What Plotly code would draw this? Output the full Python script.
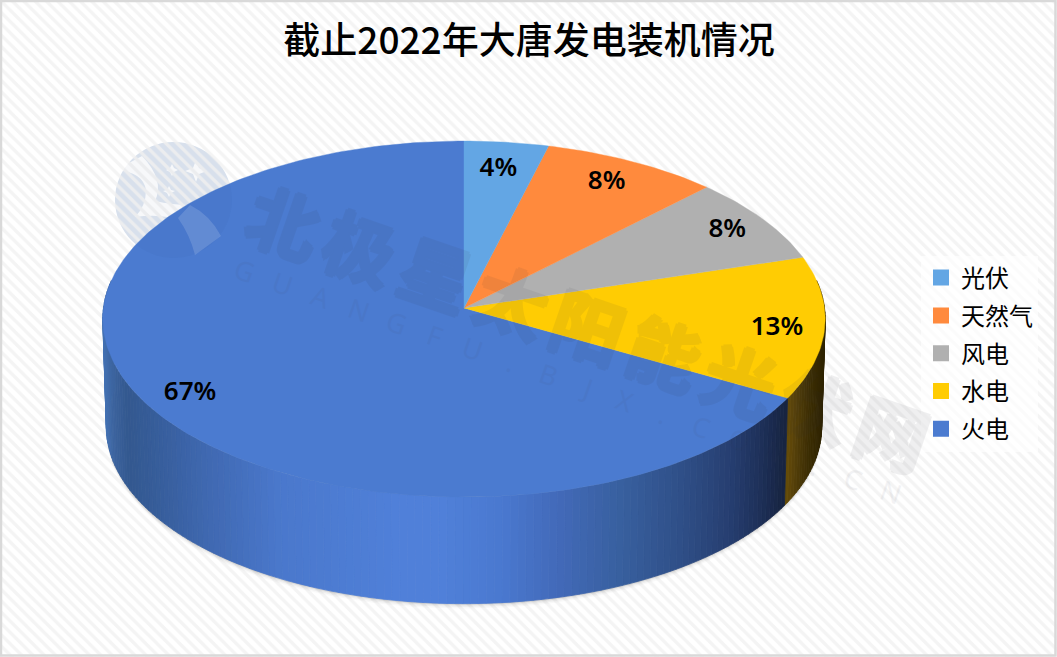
import numpy as np
import plotly.graph_objects as go

# ---- data ----
categories = ["光伏", "天然气", "风电", "水电", "火电"]
values = [4.0, 8.4, 7.9, 12.9, 66.8]
colors = ["#63a6e4", "#ff8a3d", "#b0b0b0", "#ffcc03", "#4b7bd0"]
title_text = "截止2022年大唐发电装机情况"
wm_cn = "北极星太阳能光伏网"
wm_en = "GUANGFU.BJX.COM.CN"

# ---- geometry (pixel space of the figure) ----
W, H = 1057, 657
CX, CY_TOP, CY_BOT = 464, 308, 416
R_TOP, R_BOT = 360.5, 357
RY_TOP, RY_BOT = 177.3, 176
K = 0.062
label_fx = [0.80, 0.84, 0.877, 0.867, 0.854]
label_fy = [0.83, 0.85, 0.87, 1.05, 0.93]
blue_stops = [(104, "#4472b4"), (112, "#3c649f"), (128, "#33588f"), (160, "#375e9c"), (210, "#4069b2"),
              (280, "#4a78cc"), (400, "#5080d9"), (440, "#5080d9"), (500, "#4a79d0"), (560, "#4269b8"),
              (620, "#38609f"), (680, "#2f4f88"), (730, "#263e70"), (760, "#1e3059"), (786, "#16233f")]
yellow_stops = [(783, "#6e5206"), (795, "#55400a"), (808, "#3d2e04"), (826, "#2a2000")]


def project(theta, cy, r, ry, fx=1.0, fy=1.0):
    u, v = np.sin(theta) * fx, -np.cos(theta) * fy
    d = 1 - K * v
    return CX + r * u / d, cy + ry * v / d


def hex_rgb(c):
    return np.array([int(c[i:i + 2], 16) for i in (1, 3, 5)], float)


def grad(x, stops):
    xs = [s[0] for s in stops]
    cs = np.array([hex_rgb(s[1]) for s in stops])
    rgb = [np.interp(x, xs, cs[:, i]) for i in range(3)]
    return "rgb(%d,%d,%d)" % tuple(int(round(a)) for a in rgb)


edges = np.cumsum([0] + values) / sum(values) * 2 * np.pi
fig = go.Figure()

# striped background
fig.add_trace(go.Scatter(x=[0, W, W, 0, 0], y=[0, 0, H, H, 0], mode="lines", fill="toself",
                         line=dict(width=0), showlegend=False, hoverinfo="skip",
                         fillcolor="rgba(0,0,0,0)",
                         fillpattern=dict(shape="\\", size=8, solidity=0.42, fgcolor="#f4f4f4",
                                          bgcolor="rgba(0,0,0,0)", fillmode="replace")))

# soft shadow
t_all = np.linspace(np.pi * 0.45, np.pi * 1.55, 120)
for off, alpha in [(5, 0.025), (3.5, 0.04), (2, 0.06), (1, 0.09)]:
    bx, by = project(t_all, CY_BOT + off, R_BOT, RY_BOT)
    fig.add_trace(go.Scatter(x=bx, y=by, mode="lines", fill="toself", line=dict(width=0),
                             fillcolor=f"rgba(0,0,0,{alpha})", showlegend=False, hoverinfo="skip"))

# side wall: thin strips, shaded along x
for idx, stops in [(3, yellow_stops), (4, blue_stops)]:
    a0, a1 = edges[idx], edges[idx + 1]
    a0 = max(a0, np.pi * 0.45)
    a1 = min(a1, np.pi * 1.55)
    n = int((a1 - a0) / (np.pi / 150)) + 2
    ts = np.linspace(a0, a1, n + 1)
    for t0, t1 in zip(ts[:-1], ts[1:]):
        tx0, ty0 = project(t0, CY_TOP, R_TOP, RY_TOP)
        tx1, ty1 = project(t1, CY_TOP, R_TOP, RY_TOP)
        bx0, by0 = project(t0, CY_BOT, R_BOT, RY_BOT)
        bx1, by1 = project(t1, CY_BOT, R_BOT, RY_BOT)
        col = grad((tx0 + tx1 + bx0 + bx1) / 4, stops)
        fig.add_trace(go.Scatter(x=[tx0, tx1, bx1, bx0, tx0], y=[ty0, ty1, by1, by0, ty0],
                                 mode="lines", fill="toself", fillcolor=col,
                                 line=dict(width=0.8, color=col), showlegend=False, hoverinfo="skip"))

# top face
for i in [4, 3, 2, 1, 0]:
    ts = np.linspace(edges[i], edges[i + 1], max(int((edges[i + 1] - edges[i]) * 60), 8))
    px, py = project(ts, CY_TOP, R_TOP, RY_TOP)
    fig.add_trace(go.Scatter(x=np.r_[CX, px, CX], y=np.r_[CY_TOP, py, CY_TOP], mode="lines", fill="toself",
                             fillcolor=colors[i], line=dict(width=0.4, color=colors[i]),
                             showlegend=False, hoverinfo="skip"))

# data labels
mids = (edges[:-1] + edges[1:]) / 2
lx, ly = [], []
for m, fx, fy in zip(mids, label_fx, label_fy):
    a, b = project(m, CY_TOP, R_TOP, RY_TOP, fx, fy)
    lx.append(a)
    ly.append(b)
fig.add_trace(go.Scatter(x=lx, y=ly, mode="text", text=[f"{round(v)}%" for v in values],
                         textposition="middle center", showlegend=False, hoverinfo="skip",
                         textfont=dict(family="Noto Sans, Noto Sans CJK SC", size=26, color="#000000", weight=600)))

# legend entries
for i, name in enumerate(categories):
    fig.add_trace(go.Scatter(x=[-100], y=[-100], mode="markers", name=name, legendgroup=name,
                             marker=dict(symbol="square", size=16, color=colors[i]), hoverinfo="skip"))

# watermark text
ann = []
c0 = np.array([285.0, 219.0])
c_step = (np.array([893.0, 430.0]) - c0) / (len(wm_cn) - 1)
thick = "2px 0 0 #30303c, -2px 0 0 #30303c, 0 2px 0 #30303c, 0 -2px 0 #30303c"
for i, ch in enumerate(wm_cn):
    p = c0 + c_step * i
    ann.append(dict(x=p[0], y=p[1], xref="x", yref="y", text=ch, showarrow=False, textangle=19, opacity=0.07,
                    font=dict(family="Noto Sans CJK SC", size=72, weight=700, color="#30303c", shadow=thick)))
e0 = np.array([245.0, 270.0])
e_step = np.array([38.0, 13.0])
for i, ch in enumerate(wm_en):
    p = e0 + e_step * i
    ann.append(dict(x=p[0], y=p[1], xref="x", yref="y", text=ch, showarrow=False, textangle=19, opacity=0.06,
                    font=dict(family="Noto Sans", size=27, color="#3c3c50")))

logo_circle = dict(type="circle", xref="x", yref="y", x0=115, x1=232, y0=142, y1=258, line=dict(width=0))
swoosh = ("M 116 170 Q 143 172 146 190 Q 146 206 135 217 Q 165 213 183 222 Q 190 235 195 255 "
          "L 221 236 Q 210 215 190 205 Q 172 205 155 201 Q 165 180 142 156 Z")
star1 = "M 196 160 L 199 168 L 207 171 L 199 174 L 196 182 L 193 174 L 185 171 L 193 168 Z"
star2 = "M 172 164 L 174 168 L 178 170 L 174 172 L 172 176 L 170 172 L 166 170 L 170 168 Z"
star3 = "M 169 186 L 171 190 L 175 191 L 171 193 L 169 197 L 167 193 L 163 191 L 167 190 Z"
shapes = [
    dict(logo_circle, layer="below", fillcolor="#dfe7f1"),
    dict(type="path", path=swoosh, xref="x", yref="y", layer="below", fillcolor="#ffffff", line=dict(width=0)),
    dict(type="path", path=star1, xref="x", yref="y", layer="below", fillcolor="#ffffff", line=dict(width=0)),
    dict(type="path", path=star2, xref="x", yref="y", layer="below", fillcolor="#ffffff", line=dict(width=0)),
    dict(type="path", path=star3, xref="x", yref="y", layer="below", fillcolor="#ffffff", line=dict(width=0)),
    dict(logo_circle, layer="above", fillcolor="rgba(30,60,120,0.035)"),
    dict(type="path", path="M 190 205 Q 210 215 221 236 L 195 255 Q 190 235 178 218 Z",
         xref="x", yref="y", layer="above", fillcolor="rgba(255,255,255,0.14)", line=dict(width=0)),
    dict(type="rect", xref="x", yref="y", x0=1, x1=W - 1.5, y0=1, y1=H - 1.5, layer="above",
         fillcolor="rgba(0,0,0,0)", line=dict(color="#d9d9d9", width=2.5)),
]

fig.update_layout(
    width=W, height=H, margin=dict(l=0, r=0, t=0, b=0),
    paper_bgcolor="#ffffff", plot_bgcolor="rgba(0,0,0,0)",
    xaxis=dict(range=[0, W], visible=False, fixedrange=True),
    yaxis=dict(range=[H, 0], visible=False, fixedrange=True),
    title=dict(text=title_text, x=529 / W, xanchor="center", y=1 - 41 / H, yanchor="middle",
               font=dict(family="Noto Sans CJK SC", size=37, color="#000000", weight=500)),
    legend=dict(x=921 / W, xanchor="left", y=1 - 255.5 / H, yanchor="top", bgcolor="rgba(255,255,255,0.65)",
                font=dict(family="Noto Sans CJK SC", size=24, color="#000000"),
                tracegroupgap=3.6, itemclick=False, itemdoubleclick=False, borderwidth=0),
    shapes=shapes, annotations=ann, showlegend=True,
)

fig.write_html("out.html", config={"displayModeBar": False},
               post_script="document.body.style.margin='0';document.body.style.overflow='hidden';")
